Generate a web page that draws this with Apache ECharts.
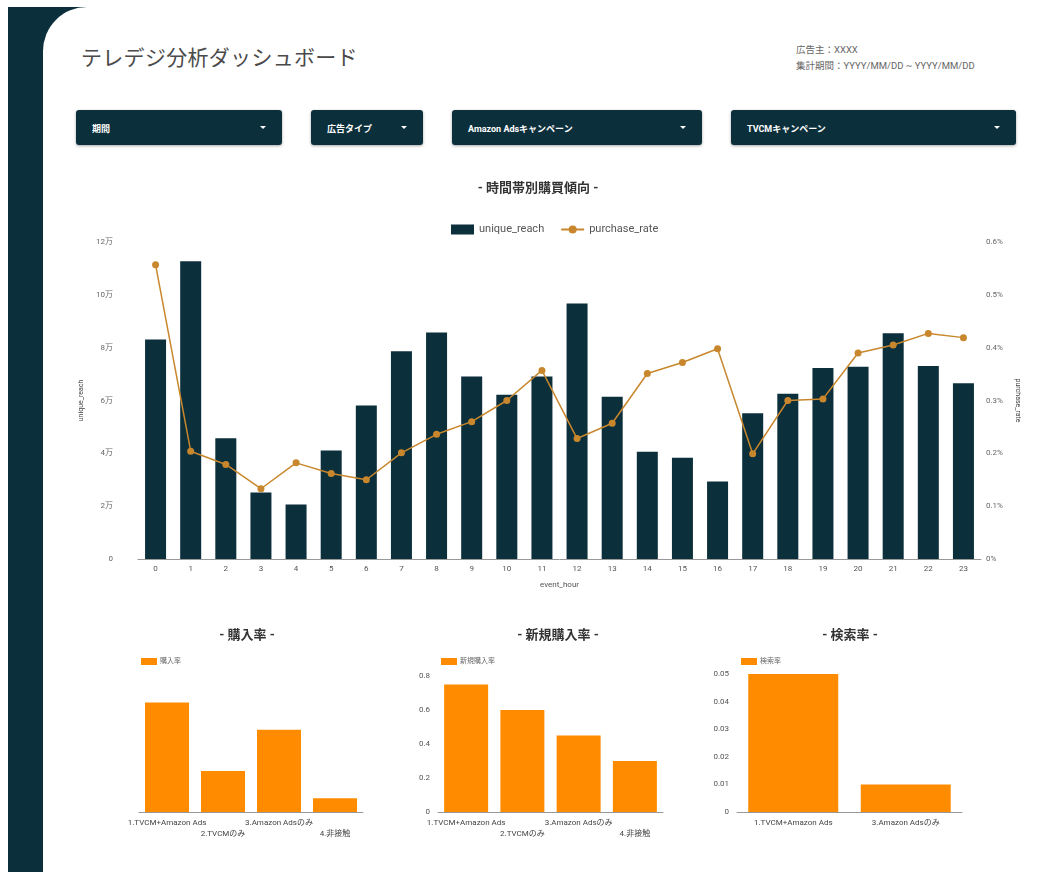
<!DOCTYPE html>
<html>
<head>
<meta charset="utf-8">
<title>テレデジ分析ダッシュボード</title>
<script src="https://cdn.jsdelivr.net/npm/echarts@6/dist/echarts.min.js"></script>
<style>
  body { margin: 0; background: #fff; font-family: Roboto, "Noto Sans CJK JP", sans-serif; }
  #page { position: relative; width: 1042px; height: 872px; overflow: hidden; background: #fff; }
  .side { position: absolute; left: 8px; top: 7px; width: 80px; height: 865px; background: #0b2f3b; }
  .panel { position: absolute; left: 43px; top: 7px; right: 0; bottom: 0; background: #fff; border-top-left-radius: 44px; }
  .title { position: absolute; left: 81px; top: 41px; font-size: 21px; color: #4a4a4a; letter-spacing: 0.3px; }
  .info { position: absolute; left: 796px; top: 42px; font-size: 9.5px; color: #666; line-height: 16px; }
  .dd { position: absolute; top: 110px; height: 35px; background: #0b2f3b; border-radius: 3px;
        box-shadow: 0 1px 3px rgba(0,0,0,0.35); color: #fff; font-size: 9px; font-weight: bold; }
  .dd span { position: absolute; left: 16px; top: 12px; }
  .dd i { position: absolute; right: 16px; top: 16px; width: 0; height: 0;
          border-left: 3px solid transparent; border-right: 3px solid transparent; border-top: 3px solid #fff; }
  #chart { position: absolute; left: 0; top: 0; width: 1042px; height: 872px; }
</style>
</head>
<body>
<div id="page">
  <div class="side"></div>
  <div class="panel"></div>
  <div class="title">テレデジ分析ダッシュボード</div>
  <div class="info">広告主：XXXX<br>集計期間：YYYY/MM/DD ~ YYYY/MM/DD</div>
  <div class="dd" style="left:76px;width:206px"><span>期間</span><i></i></div>
  <div class="dd" style="left:311px;width:112px"><span>広告タイプ</span><i></i></div>
  <div class="dd" style="left:452px;width:250px"><span>Amazon Adsキャンペーン</span><i></i></div>
  <div class="dd" style="left:731px;width:285px"><span>TVCMキャンペーン</span><i></i></div>
  <div id="chart"></div>
</div>
<script>
// hourly data
var hours = ["0", "1", "2", "3", "4", "5", "6", "7", "8", "9", "10", "11",
  "12", "13", "14", "15", "16", "17", "18", "19", "20", "21", "22", "23"];
var uniqueReach = [83100, 112700, 45700, 25200, 20600, 41100, 58100, 78600, 85700, 69100, 62200, 69100,
  96700, 61400, 40600, 38300, 29300, 55200, 62600, 72300, 72800, 85500, 73100, 66500];
// purchase rate in percent
var purchaseRate = [0.557, 0.204, 0.179, 0.133, 0.182, 0.162, 0.150, 0.201, 0.236, 0.260, 0.300, 0.357,
  0.228, 0.257, 0.351, 0.372, 0.398, 0.199, 0.300, 0.303, 0.390, 0.405, 0.427, 0.419];

// segment data
var segments = ["1.TVCM+Amazon Ads", "2.TVCMのみ", "3.Amazon Adsのみ", "4.非接触"];
var purchase = [0.04, 0.015, 0.03, 0.005];
var newPurchase = [0.75, 0.6, 0.45, 0.3];
var searchSegments = ["1.TVCM+Amazon Ads", "3.Amazon Adsのみ"];
var search = [0.05, 0.01];

var dark = "#0b2f3b";
var gold = "#c8872c";
var orange = "#ff8c00";
var font = "Roboto, 'Noto Sans CJK JP', sans-serif";

var chart = echarts.init(document.getElementById("chart"));

// stagger labels on two rows
function stagger(value, index) {
  return index % 2 ? "\n" + value : value;
}

function smallX(idx, data, fmt) {
  return {
    type: "category", gridIndex: idx, data: data,
    axisTick: { show: false },
    axisLine: { lineStyle: { color: "#999" } },
    axisLabel: { interval: 0, fontSize: 8, color: "#444", margin: 5, lineHeight: 11, formatter: fmt, fontFamily: font }
  };
}

function smallTitle(text, x) {
  return {
    text: text, left: x, top: 624, textAlign: "center",
    textStyle: { fontSize: 13, fontWeight: "bold", color: "#333", fontFamily: font }
  };
}

function smallLegend(name, x) {
  return {
    data: [{ name: name, icon: "rect" }], left: x, top: 653, itemWidth: 16, itemHeight: 7, itemGap: 4,
    textStyle: { fontSize: 7, color: "#666", fontFamily: font, padding: [0, 0, 0, -2] }
  };
}

var option = {
  animation: false,
  textStyle: { fontFamily: font },
  title: [
    {
      text: "- 時間帯別購買傾向 -", left: 533, top: 177, textAlign: "center",
      textStyle: { fontSize: 13, fontWeight: "bold", color: "#333", fontFamily: font }
    },
    smallTitle("- 購入率 -", 242),
    smallTitle("- 新規購入率 -", 553),
    smallTitle("- 検索率 -", 845)
  ],
  legend: [
    {
      data: [{ name: "unique_reach", icon: "rect" }, "purchase_rate"], left: 446, top: 219,
      itemWidth: 23, itemHeight: 10, itemGap: 16,
      textStyle: { fontSize: 11, color: "#555", fontFamily: font }
    },
    smallLegend("購入率", 136),
    smallLegend("新規購入率", 436),
    smallLegend("検索率", 736)
  ],
  grid: [
    { left: 138, right: 61, top: 242, bottom: 313 },
    { left: 139, width: 224, top: 675, bottom: 60 },
    { left: 438, width: 225, top: 676, bottom: 60 },
    { left: 737, width: 225, top: 674, bottom: 60 }
  ],
  xAxis: [
    {
      type: "category", gridIndex: 0, data: hours,
      axisTick: { show: false },
      axisLine: { lineStyle: { color: "#999" } },
      axisLabel: { fontSize: 8, color: "#555", margin: 6 },
      name: "event_hour", nameLocation: "middle", nameGap: 22,
      nameTextStyle: { fontSize: 8, color: "#555" }
    },
    smallX(1, segments, stagger),
    smallX(2, segments, stagger),
    smallX(3, searchSegments)
  ],
  yAxis: [
    {
      type: "value", gridIndex: 0, min: 0, max: 120000, interval: 20000,
      splitLine: { show: false },
      axisLabel: {
        fontSize: 8, color: "#666", margin: 25,
        formatter: function (v) { return v === 0 ? "0" : v / 10000 + "万"; }
      },
      name: "unique_reach", nameLocation: "middle", nameGap: 51,
      nameTextStyle: { fontSize: 7, color: "#444" }
    },
    {
      type: "value", gridIndex: 0, position: "right", min: 0, max: 0.6, interval: 0.1,
      splitLine: { show: false },
      axisLabel: {
        fontSize: 8, color: "#666", margin: 5,
        formatter: function (v) { return Math.round(v * 10) / 10 + "%"; }
      },
      name: "purchase_rate", nameLocation: "middle", nameGap: 32, nameRotate: -90,
      nameTextStyle: { fontSize: 7, color: "#444" }
    },
    { type: "value", gridIndex: 1, min: 0, max: 0.05, show: false },
    {
      type: "value", gridIndex: 2, min: 0, max: 0.8, interval: 0.2,
      splitLine: { show: false },
      axisLabel: { fontSize: 8, color: "#555", margin: 8 }
    },
    {
      type: "value", gridIndex: 3, min: 0, max: 0.05, interval: 0.01,
      splitLine: { show: false },
      axisLabel: { fontSize: 8, color: "#555", margin: 8 }
    }
  ],
  series: [
    {
      name: "unique_reach", type: "bar", xAxisIndex: 0, yAxisIndex: 0,
      data: uniqueReach, barWidth: 21, itemStyle: { color: dark }
    },
    {
      name: "purchase_rate", type: "line", xAxisIndex: 0, yAxisIndex: 1,
      data: purchaseRate, symbol: "circle", symbolSize: 7,
      lineStyle: { color: gold, width: 1.5 }, itemStyle: { color: gold }
    },
    {
      name: "購入率", type: "bar", xAxisIndex: 1, yAxisIndex: 2,
      data: purchase, barWidth: 44, itemStyle: { color: orange }
    },
    {
      name: "新規購入率", type: "bar", xAxisIndex: 2, yAxisIndex: 3,
      data: newPurchase, barWidth: 44, itemStyle: { color: orange }
    },
    {
      name: "検索率", type: "bar", xAxisIndex: 3, yAxisIndex: 4,
      data: search, barWidth: 90, itemStyle: { color: orange }
    }
  ]
};

chart.setOption(option);
</script>
</body>
</html>
